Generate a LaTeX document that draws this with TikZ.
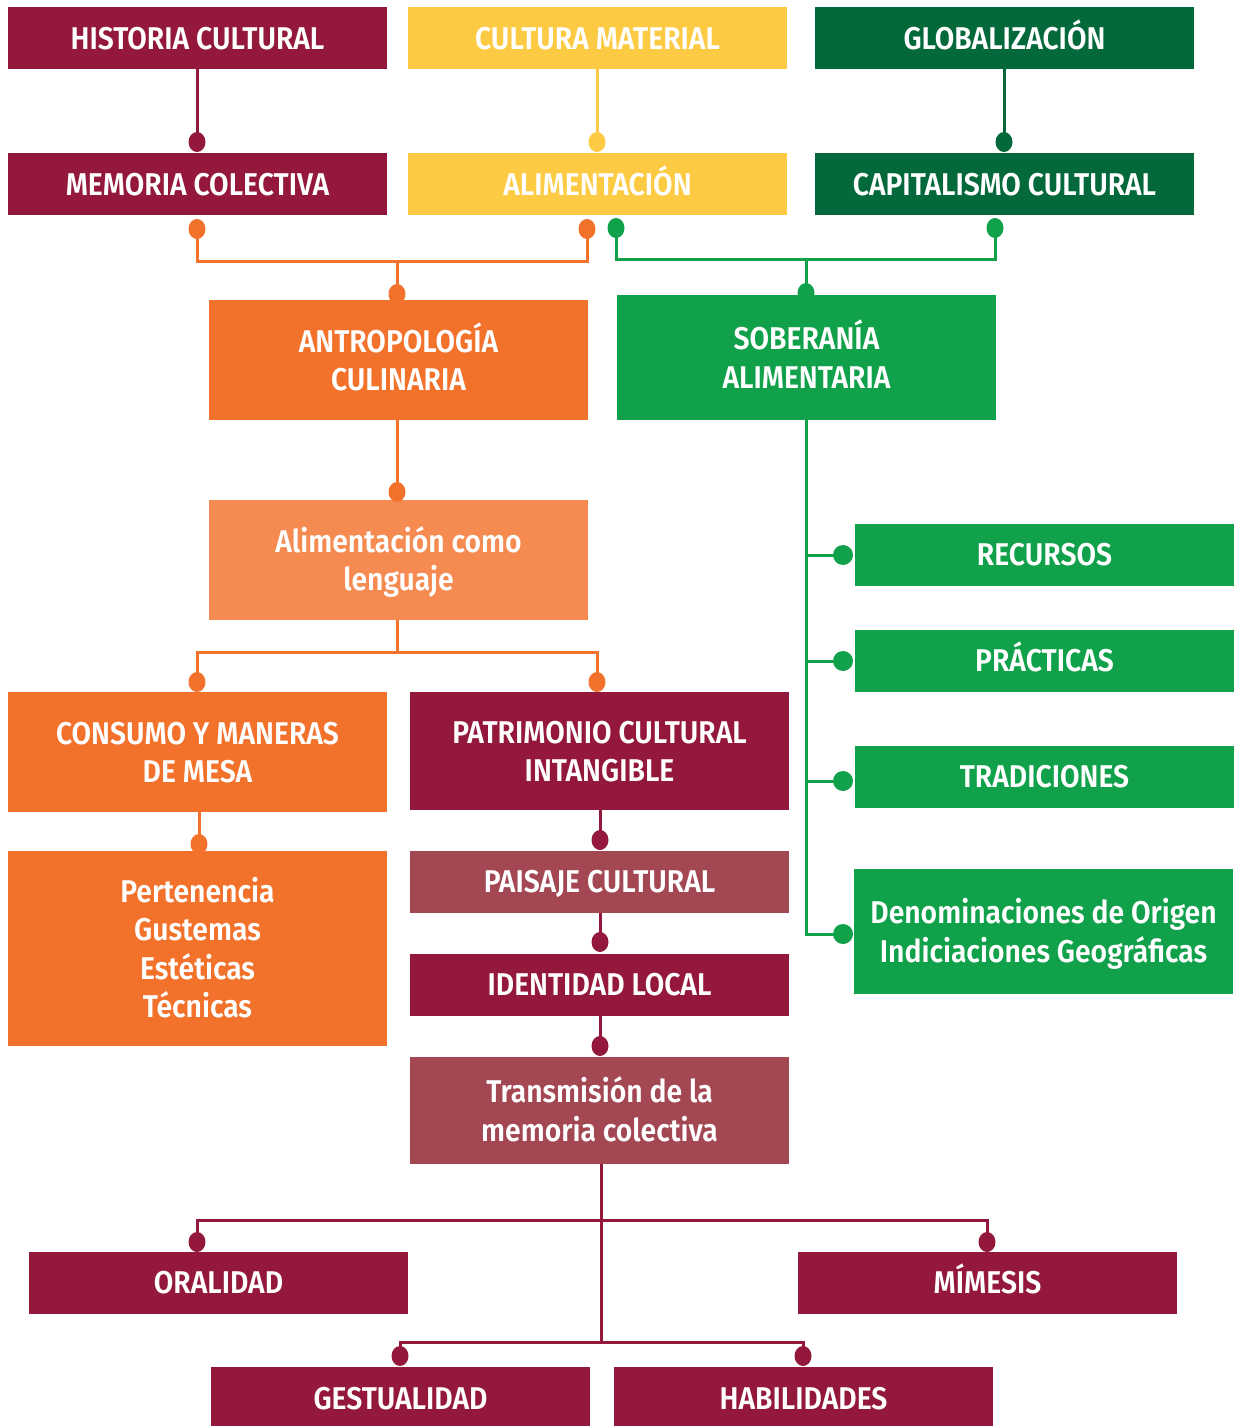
\documentclass[tikz,border=0pt]{standalone}
\usepackage{fontspec}
\setmainfont{Fira Sans SemiBold}[FakeStretch=0.9]
\usetikzlibrary{shapes.geometric,backgrounds}
\definecolor{maroon}{HTML}{93183C}
\definecolor{gold}{HTML}{FDCA44}
\definecolor{dgreen}{HTML}{03693A}
\definecolor{lgreen}{HTML}{11A14A}
\definecolor{orng}{HTML}{F2712B}
\definecolor{lorng}{HTML}{F68B52}
\definecolor{rose}{HTML}{A34753}
\newcommand{\ph}{\vphantom{Íg}}
\begin{document}
\begin{tikzpicture}[x=0.02cm,y=-0.02cm,
  box/.style={rectangle, inner sep=0pt, minimum width=7.58cm, minimum height=1.24cm,
    text=white, align=center, font=\fontsize{17.9}{21.9}\selectfont},
  vdot/.style={ellipse, inner sep=0pt, minimum width=0.34cm, minimum height=0.4cm},
  rdot/.style={circle, inner sep=0pt, minimum size=0.4cm},
  conn/.style={line width=0.06cm}]
\useasboundingbox (0,0) rectangle (1235,1426);
% boxes
\node[box, fill=maroon] (hist) at (197.5,38) {\ph HISTORIA CULTURAL};
\node[box, fill=gold] (cmat) at (597.5,38) {\ph CULTURA MATERIAL};
\node[box, fill=dgreen] (glob) at (1004.5,38) {\ph GLOBALIZACIÓN};
\node[box, fill=maroon] (memo) at (197.5,184) {\ph MEMORIA COLECTIVA};
\node[box, fill=gold] (alim) at (597.5,184) {\ph ALIMENTACIÓN};
\node[box, fill=dgreen] (capi) at (1004.5,184) {\ph CAPITALISMO CULTURAL};
\node[box, fill=orng, minimum height=2.4cm] (antro) at (398.5,360) {\ph ANTROPOLOGÍA\\CULINARIA\ph};
\node[box, fill=lgreen, minimum height=2.5cm] (sober) at (806.5,357.5) {\ph SOBERANÍA\\ALIMENTARIA\ph};
\node[box, fill=lorng, minimum height=2.4cm] (leng) at (398.5,560) {\ph Alimentación como\\lenguaje\ph};
\node[box, fill=orng, minimum height=2.4cm] (consumo) at (197.5,752) {\ph CONSUMO Y MANERAS\\DE MESA\ph};
\node[box, fill=maroon, minimum height=2.36cm] (patri) at (599.5,751) {\ph PATRIMONIO CULTURAL\\INTANGIBLE\ph};
\node[box, fill=orng, minimum height=3.9cm] (perten) at (197.5,948.5) {\ph Pertenencia\\Gustemas\\Estéticas\\Técnicas\ph};
\node[box, fill=rose] (paisaje) at (599.5,881.5) {\ph PAISAJE CULTURAL};
\node[box, fill=maroon] (ident) at (599.5,984.5) {\ph IDENTIDAD LOCAL};
\node[box, fill=rose, minimum height=2.14cm] (trans) at (599.5,1110.5) {\ph Transmisión de la\\memoria colectiva\ph};
\node[box, fill=maroon] (oral) at (218.5,1282.5) {\ph ORALIDAD};
\node[box, fill=maroon] (mime) at (987.5,1282.5) {\ph MÍMESIS};
\node[box, fill=maroon] (gest) at (400.5,1398) {\ph GESTUALIDAD};
\node[box, fill=maroon] (habil) at (803.5,1398) {\ph HABILIDADES};
\node[box, fill=lgreen] (recur) at (1044.5,554.5) {\ph RECURSOS};
\node[box, fill=lgreen] (pract) at (1044.5,660.5) {\ph PRÁCTICAS};
\node[box, fill=lgreen] (tradi) at (1044.5,776.5) {\ph TRADICIONES};
\node[box, fill=lgreen, minimum height=2.5cm] (denom) at (1043.5,931.5) {\ph Denominaciones de Origen\\Indiciaciones Geográficas\ph};
% dots
\node[vdot, fill=maroon] (d1) at (197,142) {};
\node[vdot, fill=gold] (d2) at (597,142) {};
\node[vdot, fill=dgreen] (d3) at (1004,142) {};
\node[vdot, fill=orng] (o1) at (197,229) {};
\node[vdot, fill=orng] (o2) at (587,229) {};
\node[vdot, fill=orng] (o3) at (397,294) {};
\node[vdot, fill=lgreen] (g1) at (616,228) {};
\node[vdot, fill=lgreen] (g2) at (995,228) {};
\node[vdot, fill=lgreen] (g3) at (806,293) {};
\node[vdot, fill=orng] (o4) at (397,492) {};
\node[vdot, fill=orng] (o5) at (197,682) {};
\node[vdot, fill=orng] (o6) at (597,682) {};
\node[vdot, fill=orng] (o7) at (199,844) {};
\node[vdot, fill=maroon] (m1) at (600,840) {};
\node[vdot, fill=maroon] (m2) at (600,942) {};
\node[vdot, fill=maroon] (m3) at (600,1046) {};
\node[vdot, fill=maroon] (m4) at (197,1242) {};
\node[vdot, fill=maroon] (m5) at (987,1242) {};
\node[vdot, fill=maroon] (m6) at (400,1356) {};
\node[vdot, fill=maroon] (m7) at (803,1356) {};
\node[rdot, fill=lgreen] (s1) at (843,555) {};
\node[rdot, fill=lgreen] (s2) at (843,661) {};
\node[rdot, fill=lgreen] (s3) at (843,781) {};
\node[rdot, fill=lgreen] (s4) at (843,934) {};
% junctions
\coordinate (j1) at (397,261);
\coordinate (j2) at (806,259);
\coordinate (j3) at (397,652);
\coordinate (j4) at (601,1220);
\coordinate (j5) at (601,1342);
\begin{scope}[on background layer]
\draw[conn, maroon] (hist.south -| d1) -- (d1.center);
\draw[conn, gold] (cmat.south -| d2) -- (d2.center);
\draw[conn, dgreen] (glob.south -| d3) -- (d3.center);
\draw[conn, orng] (o1.center) |- (j1) -| (o2.center);
\draw[conn, orng] (j1) -- (o3.center);
\draw[conn, lgreen] (g1.center) |- (j2) -| (g2.center);
\draw[conn, lgreen] (j2) -- (g3.center);
\draw[conn, orng] (antro.south -| o4) -- (o4.center);
\draw[conn, orng] (leng.south -| j3) -- (j3);
\draw[conn, orng] (o5.center) |- (j3) -| (o6.center);
\draw[conn, orng] (consumo.south -| o7) -- (o7.center);
\draw[conn, maroon] (patri.south -| m1) -- (m1.center);
\draw[conn, maroon] (paisaje.south -| m2) -- (m2.center);
\draw[conn, maroon] (ident.south -| m3) -- (m3.center);
\draw[conn, maroon] (trans.south -| j5) -- (j5);
\draw[conn, maroon] (m4.center) |- (j4) -| (m5.center);
\draw[conn, maroon] (m6.center) |- (j5) -| (m7.center);
\draw[conn, lgreen] (sober.south) |- (s4.center);
\draw[conn, lgreen] (s1.center) -- (s1 -| sober.south);
\draw[conn, lgreen] (s2.center) -- (s2 -| sober.south);
\draw[conn, lgreen] (s3.center) -- (s3 -| sober.south);
\end{scope}
\end{tikzpicture}
\end{document}
